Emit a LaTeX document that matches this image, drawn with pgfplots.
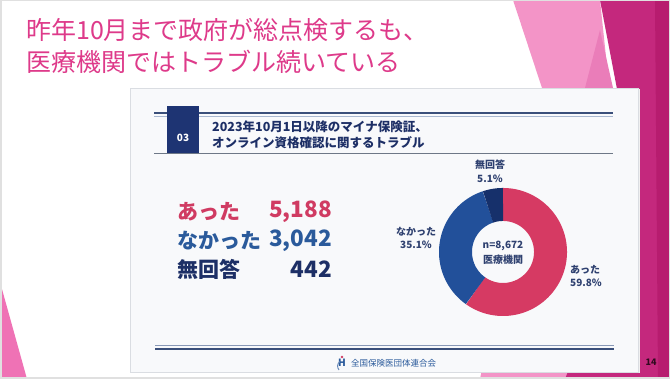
\documentclass[border=0pt]{standalone}
\usepackage{pgfplots}
\pgfplotsset{compat=1.18}
\usepgfplotslibrary{polar}
\usepackage{fontspec}
\setmainfont{Noto Sans CJK JP}
\definecolor{titlepink}{HTML}{DE3A8A}
\definecolor{lightpink}{HTML}{F394C7}
\definecolor{midpink}{HTML}{EA7DB9}
\definecolor{magenta1}{HTML}{C4287D}
\definecolor{magenta2}{HTML}{B71C6F}
\definecolor{wedge}{HTML}{EF72B5}
\definecolor{cardfill}{HTML}{F8F9FB}
\definecolor{cardline}{HTML}{DADDE2}
\definecolor{navybox}{HTML}{1E3473}
\definecolor{ruledark}{HTML}{3A4F7A}
\definecolor{rulelight}{HTML}{A9B8D0}
\definecolor{txtnavy}{HTML}{1D2F66}
\definecolor{sRed}{HTML}{D03B62}
\definecolor{sBlue}{HTML}{2A5A9B}
\definecolor{dRed}{HTML}{D63A63}
\definecolor{dBlue}{HTML}{22509A}
\definecolor{dNavy}{HTML}{16306B}
\definecolor{lbl}{HTML}{2F4170}
\begin{document}
\begin{tikzpicture}[x=1pt,y=1pt]
\useasboundingbox (0,0) rectangle (670,379);
% slide background
\fill[white] (0,0) rectangle (670,379);
% decorations
\fill[lightpink] (513,379) -- (600,379) -- (640,0) -- (480,0) -- (542,291) -- cycle;
\fill[midpink] (600,349) -- (613,291) -- (585,291) -- cycle;
\fill[magenta1] (600,379) -- (670,379) -- (670,0) -- (565,0) -- (638,180) -- cycle;
\fill[magenta2] (655,379) -- (670,379) -- (670,0) -- (658,0) -- cycle;
\fill[wedge] (0,97) -- (0,0) -- (27,0) -- cycle;
\draw[black!12, line width=1.5pt] (0.75,0.75) rectangle (669.25,378.25);
% title
\node[anchor=west, text=titlepink, font=\fontsize{25}{25}\selectfont, inner sep=0pt] at (26,349) {昨年10月まで政府が総点検するも、};
\node[anchor=west, text=titlepink, font=\fontsize{25}{25}\selectfont, inner sep=0pt] at (26,317) {医療機関ではトラブル続いている};
% card
\fill[black!6] (131.5,5.5) rectangle (639.5,289.5);
\filldraw[fill=cardfill, draw=cardline, line width=0.6pt] (130,7) rectangle (638,291);
% header rules
\draw[ruledark, line width=2pt] (154,266) -- (613,266);
\draw[rulelight, line width=1.2pt] (154,262.5) -- (613,262.5);
\draw[black!35!rulelight, line width=0.8pt] (154,226) -- (613,226);
\fill[navybox] (167,226) rectangle (199,273);
\node[text=white, font=\bfseries\fontsize{10}{10}\selectfont] at (183,241) {03};
\node[anchor=west, text=txtnavy, font=\bfseries\fontsize{12.5}{12.5}\selectfont, inner sep=0pt] at (212,252) {2023年10月1日以降のマイナ保険証、};
\node[anchor=west, text=txtnavy, font=\bfseries\fontsize{12.5}{12.5}\selectfont, inner sep=0pt] at (212,236) {オンライン資格確認に関するトラブル};
% stats
\node[anchor=west, text=sRed, font=\bfseries\fontsize{21}{21}\selectfont, inner sep=0pt] at (177,167) {あった};
\node[anchor=east, text=sRed, font=\bfseries\fontsize{22.5}{22.5}\selectfont, inner sep=0pt] at (332,167) {5,188};
\node[anchor=west, text=sBlue, font=\bfseries\fontsize{21}{21}\selectfont, inner sep=0pt] at (177,138) {なかった};
\node[anchor=east, text=sBlue, font=\bfseries\fontsize{22.5}{22.5}\selectfont, inner sep=0pt] at (332,138) {3,042};
\node[anchor=west, text=txtnavy, font=\bfseries\fontsize{21}{21}\selectfont, inner sep=0pt] at (177,110) {無回答};
\node[anchor=east, text=txtnavy, font=\bfseries\fontsize{22.5}{22.5}\selectfont, inner sep=0pt] at (332,110) {442};
% donut: counts 5188, 3042, 442 of n=8672, clockwise from 12 o'clock
\begin{scope}[shift={(433pt,57pt)}]
\begin{polaraxis}[at={(0pt,0pt)}, anchor=south west, width=140pt, height=140pt,
  scale only axis, hide axis, ymin=0, ymax=70, xmin=0, xmax=360, clip=false]
\addplot[draw=dRed, line width=33pt, line cap=butt, no markers, domain=-125.369:90, samples=150] {47.5};
\addplot[draw=dBlue, line width=33pt, line cap=butt, no markers, domain=-251.651:-125.369, samples=100] {47.5};
\addplot[draw=dNavy, line width=33pt, line cap=butt, no markers, domain=-270:-251.651, samples=20] {47.5};
\end{polaraxis}
\end{scope}
\node[text=lbl, font=\bfseries\fontsize{10}{10}\selectfont] at (503,133) {n=8,672};
\node[text=lbl, font=\bfseries\fontsize{10}{10}\selectfont] at (503,119) {医療機関};
\node[text=lbl, font=\bfseries\fontsize{10}{10}\selectfont] at (490,214) {無回答};
\node[text=lbl, font=\bfseries\fontsize{10}{10}\selectfont] at (490,200) {5.1\%};
\node[text=lbl, font=\bfseries\fontsize{10}{10}\selectfont] at (416,147) {なかった};
\node[text=lbl, font=\bfseries\fontsize{10}{10}\selectfont] at (416,134) {35.1\%};
\node[anchor=west, text=lbl, font=\bfseries\fontsize{10}{10}\selectfont, inner sep=0pt] at (570,109) {あった};
\node[anchor=west, text=lbl, font=\bfseries\fontsize{10}{10}\selectfont, inner sep=0pt] at (570,96) {59.8\%};
% footer
\draw[rulelight!70!ruledark, line width=0.9pt] (155,34) -- (614,34);
\draw[ruledark, line width=1.6pt] (155,30) -- (614,30);
\node[text=sBlue, font=\bfseries\fontsize{10}{10}\selectfont, inner sep=0pt] at (342,16) {H};
\draw[sBlue!70, line width=1pt] (339,9) arc (220:130:6);
\fill[sRed] (342,22) circle (1.3);
\node[anchor=west, text=sBlue, font=\fontsize{8.5}{8.5}\selectfont, inner sep=0pt] at (351,16) {全国保険医団体連合会};
\node[text=black!75!magenta1, font=\bfseries\fontsize{9}{9}\selectfont] at (651,17) {14};
\end{tikzpicture}
\end{document}
